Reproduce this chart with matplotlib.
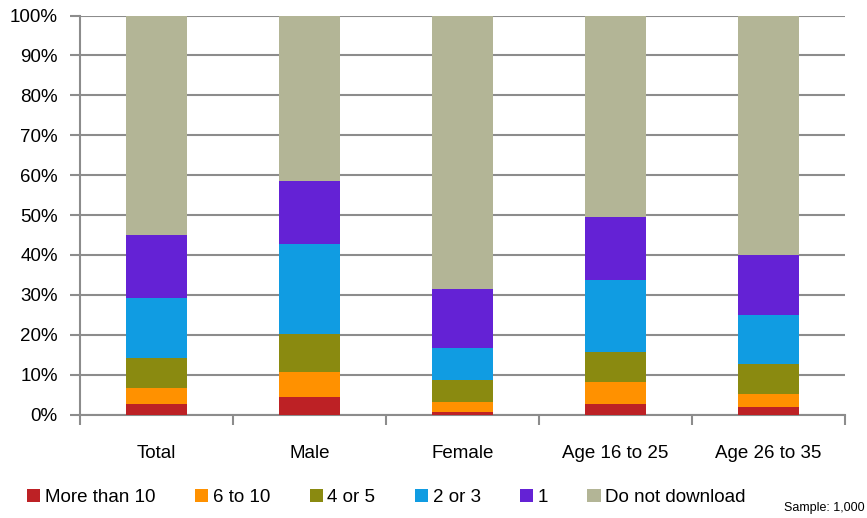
import matplotlib.pyplot as plt
import numpy as np

groups = ["Total", "Male", "Female", "Age 16 to 25", "Age 26 to 35"]
series = ["More than 10", "6 to 10", "4 or 5", "2 or 3", "1", "Do not download"]
colors = ["#BD2125", "#FF9100", "#8A8A10", "#109CE2", "#6422D5", "#B3B596"]

more_than_10 = [2.6, 4.5, 0.6, 2.6, 2.0]
six_to_10 = [4.0, 6.1, 2.5, 5.5, 3.1]
four_or_5 = [7.5, 9.5, 5.5, 7.5, 7.5]
two_or_3 = [15.0, 22.6, 8.1, 18.0, 12.4]
one = [15.9, 15.8, 14.8, 15.9, 15.0]
no_download = [55.0, 41.5, 68.5, 50.5, 60.0]

values = [more_than_10, six_to_10, four_or_5, two_or_3, one, no_download]

plt.rcParams['font.family'] = ['Liberation Sans', 'DejaVu Sans']
grid_col = "#8c8c8c"

fig = plt.figure(figsize=(8.67, 5.18), dpi=100)
ax = fig.add_axes([80/867, 1-414.5/518, 765/867, 399/518])

x = np.arange(len(groups))
bottom = np.zeros(len(groups))
for name, vals, c in zip(series, values, colors):
    ax.bar(x, vals, 0.405, bottom=bottom, color=c, label=name, zorder=3)
    bottom += np.array(vals)

ax.set_xlim(-0.5, len(groups) - 0.5)
ax.set_ylim(0, 100)
ax.set_yticks(np.arange(0, 101, 10))
ax.set_yticklabels([f"{v}%" for v in range(0, 101, 10)], fontsize=13.5)
ax.yaxis.grid(True, color=grid_col, lw=1.5, zorder=0)
ax.tick_params(axis='y', length=7, color=grid_col, width=1.5, pad=9)

ax.set_xticks(x)
ax.set_xticklabels(groups, fontsize=13.5)
ax.set_xticks(np.arange(-0.5, len(groups)), minor=True)
ax.tick_params(axis='x', which='major', length=0, pad=22)
ax.tick_params(axis='x', which='minor', length=7, color=grid_col, width=1.5)

for s in ['top', 'right']:
    ax.spines[s].set_visible(False)
for s in ['left', 'bottom']:
    ax.spines[s].set_color(grid_col)
    ax.spines[s].set_linewidth(1.5)

fig.legend(loc='lower left', bbox_to_anchor=(0.012, -0.01), ncol=6, frameon=False,
           fontsize=13.5, handlelength=0.7, handleheight=0.7, handletextpad=0.25,
           columnspacing=2.1)
fig.text(0.997, 0.008, "Sample: 1,000", ha='right', va='bottom', fontsize=9)

fig.savefig("out.png", dpi=100)
